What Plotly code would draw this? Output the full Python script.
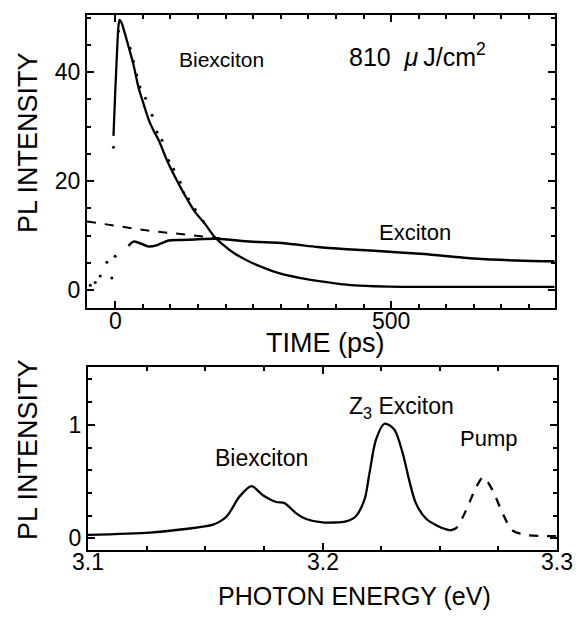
import plotly.graph_objects as go

# ---------------- Top panel data: PL intensity vs time ----------------
biex_t = [-3, 0, 4, 6, 8, 12, 18, 24, 33, 42, 52, 61, 70, 79, 94, 110, 127, 145, 164, 179, 197,
          215, 240, 264, 300, 336, 380, 427, 469, 520, 600, 700, 796]
biex_y = [28.3, 36, 45, 48.5, 49.6, 49.0, 47.0, 44.8, 41.5, 37.3, 34.0, 31.2, 29.2, 27.5, 23.8,
          20.5, 17.3, 14.3, 12.0, 9.9, 8.2, 6.8, 5.4, 4.3, 3.0, 2.2, 1.5, 0.9, 0.7, 0.6, 0.6, 0.6, 0.6]

exc_t = [24, 33, 45, 60, 75, 97, 120, 145, 185, 245, 306, 367, 420, 470, 560, 650, 740, 796]
exc_y = [8.1, 8.9, 8.6, 8.0, 8.2, 9.1, 9.2, 9.3, 9.4, 8.9, 8.6, 7.9, 7.5, 7.2, 6.6, 5.8, 5.4, 5.3]

fit_t = [-51, 6, 67, 127, 158, 190]
fit_y = [12.6, 11.7, 10.8, 10.2, 9.9, 9.5]

biexfit_t = [-6, -3, 6, 27, 33, 39, 45, 55, 67, 76, 85, 97, 106, 118, 124, 133, 145, 160]
biexfit_y = [2.2, 26.2, 47.5, 44.4, 42.0, 39.5, 37.3, 35.2, 32.1, 29.0, 27.5, 23.8, 22.2, 19.8,
             17.9, 16.7, 14.8, 12.6]

excfit_t = [-45, -36, -27, -15, 0]
excfit_y = [0.9, 1.4, 2.6, 5.1, 6.2]

time_ticks = [0, 500]
top_y_ticks = [0, 20, 40]

# ---------------- Bottom panel data: PL spectrum ----------------
spec_e = [3.1, 3.1264, 3.1406, 3.1533, 3.159, 3.1647, 3.1697, 3.1746, 3.1803, 3.1838, 3.1888,
          3.193, 3.2, 3.210, 3.214, 3.2179, 3.22, 3.2228, 3.2264, 3.2306, 3.2342, 3.237, 3.2398,
          3.2443, 3.25, 3.2543]
spec_i = [0.03, 0.05, 0.08, 0.12, 0.19, 0.37, 0.46, 0.38, 0.32, 0.31, 0.22,
          0.17, 0.14, 0.15, 0.19, 0.34, 0.57, 0.87, 1.01, 0.96, 0.75, 0.51, 0.31,
          0.17, 0.10, 0.07]

pump_e = [3.2543, 3.257, 3.2613, 3.2655, 3.2686, 3.2726, 3.2768, 3.281, 3.2868, 3.2953, 3.3]
pump_i = [0.07, 0.09, 0.25, 0.45, 0.54, 0.42, 0.22, 0.07, 0.03, 0.02, 0.02]

energy_ticks = [3.1, 3.2, 3.3]
energy_tick_text = ["3.1", "3.2", "3.3"]
bottom_y_ticks = [0, 1]

FONT = "Liberation Sans, Arial, sans-serif"
BLACK = "black"

fig = go.Figure()

# top panel traces
fig.add_trace(go.Scatter(x=fit_t, y=fit_y, mode="lines",
                         line=dict(color=BLACK, width=2, dash="dash"), xaxis="x", yaxis="y"))
fig.add_trace(go.Scatter(x=biex_t, y=biex_y, mode="lines",
                         line=dict(color=BLACK, width=2.3, shape="spline", smoothing=0.6),
                         xaxis="x", yaxis="y"))
fig.add_trace(go.Scatter(x=exc_t, y=exc_y, mode="lines",
                         line=dict(color=BLACK, width=2.5, shape="spline", smoothing=0.6),
                         xaxis="x", yaxis="y"))
fig.add_trace(go.Scatter(x=biexfit_t, y=biexfit_y, mode="markers",
                         marker=dict(color=BLACK, size=3), xaxis="x", yaxis="y"))
fig.add_trace(go.Scatter(x=excfit_t, y=excfit_y, mode="markers",
                         marker=dict(color=BLACK, size=3), xaxis="x", yaxis="y"))

# bottom panel traces
fig.add_trace(go.Scatter(x=spec_e, y=spec_i, mode="lines",
                         line=dict(color=BLACK, width=2.3, shape="spline", smoothing=0.8),
                         xaxis="x2", yaxis="y2"))
fig.add_trace(go.Scatter(x=pump_e, y=pump_i, mode="lines",
                         line=dict(color=BLACK, width=2.3, dash="dash", shape="spline", smoothing=0.8),
                         xaxis="x2", yaxis="y2"))

W, H = 586, 624
def px(x):
    return x / W
def py(y):
    return 1 - y / H

axis_common = dict(showline=True, linecolor=BLACK, linewidth=2, mirror="allticks",
                   ticks="inside", tickcolor=BLACK, tickwidth=1.5, ticklen=7,
                   showgrid=False, zeroline=False, automargin=False,
                   tickfont=dict(family=FONT, size=23, color=BLACK))

fig.update_layout(
    template="none",
    width=W, height=H,
    margin=dict(l=0, r=0, t=0, b=0, pad=0),
    paper_bgcolor="white", plot_bgcolor="white",
    showlegend=False,
    xaxis=dict(domain=[px(87), px(555)], range=[-51, 797], anchor="y",
               tickmode="array", tickvals=time_ticks, showticklabels=False,
               minor=dict(dtick=50, tick0=0, ticks="inside", ticklen=4, tickcolor=BLACK, tickwidth=1.5),
               **axis_common),
    yaxis=dict(domain=[py(307.5), py(15)], range=[-3.2, 50.5], anchor="x",
               tickmode="array", tickvals=top_y_ticks,
               minor=dict(dtick=5, tick0=0, ticks="inside", ticklen=4, tickcolor=BLACK, tickwidth=1.5),
               **axis_common),
    xaxis2=dict(domain=[px(88), px(557)], range=[3.1, 3.3], anchor="y2",
                tickmode="array", tickvals=energy_ticks, showticklabels=False,
                minor=dict(dtick=0.025, tick0=3.1, ticks="inside", ticklen=4, tickcolor=BLACK, tickwidth=1.5),
                **axis_common),
    yaxis2=dict(domain=[py(550), py(367)], range=[-0.103, 1.51], anchor="x2",
                tickmode="array", tickvals=bottom_y_ticks,
                minor=dict(dtick=0.2, tick0=0, ticks="inside", ticklen=4, tickcolor=BLACK, tickwidth=1.5),
                **axis_common),
)

ann = []
def paper_text(text, x, y, size, angle=0):
    ann.append(dict(text=text, x=px(x), y=py(y), xref="paper", yref="paper",
                    showarrow=False, textangle=angle, xanchor="center", yanchor="middle",
                    font=dict(family=FONT, size=size, color=BLACK)))
def data_text(text, x, y, xr, yr, size):
    ann.append(dict(text=text, x=x, y=y, xref=xr, yref=yr, showarrow=False,
                    xanchor="center", yanchor="middle",
                    font=dict(family=FONT, size=size, color=BLACK)))

# x tick labels (placed close to the axis, as in the reference)
for v in time_ticks:
    ann.append(dict(text=str(v), x=v, y=py(321), xref="x", yref="paper", showarrow=False,
                    xanchor="center", yanchor="middle",
                    font=dict(family=FONT, size=23, color=BLACK)))
for v, t in zip(energy_ticks, energy_tick_text):
    ann.append(dict(text=t, x=v, y=py(562), xref="x2", yref="paper", showarrow=False,
                    xanchor="center", yanchor="middle",
                    font=dict(family=FONT, size=23, color=BLACK)))

paper_text("PL INTENSITY", 28, 143, 27, -90)
paper_text("PL INTENSITY", 28, 450, 27, -90)
paper_text("TIME (ps)", 325, 343, 27)
paper_text("PHOTON ENERGY (eV)", 354, 596, 25)

data_text("Biexciton", 193, 42.4, "x", "y", 21)
data_text("810\u00a0 <i>μ</i>\u2009J/cm<sup>2</sup>", 548, 43.1, "x", "y", 25)
data_text("Exciton", 544, 10.6, "x", "y", 22)
data_text("Biexciton", 3.1738, 0.71, "x2", "y2", 23)
data_text("Z<sub>3</sub> Exciton", 3.2335, 1.15, "x2", "y2", 23)
data_text("Pump", 3.271, 0.876, "x2", "y2", 22)

fig.update_layout(annotations=ann)
fig.write_html("out.html")
